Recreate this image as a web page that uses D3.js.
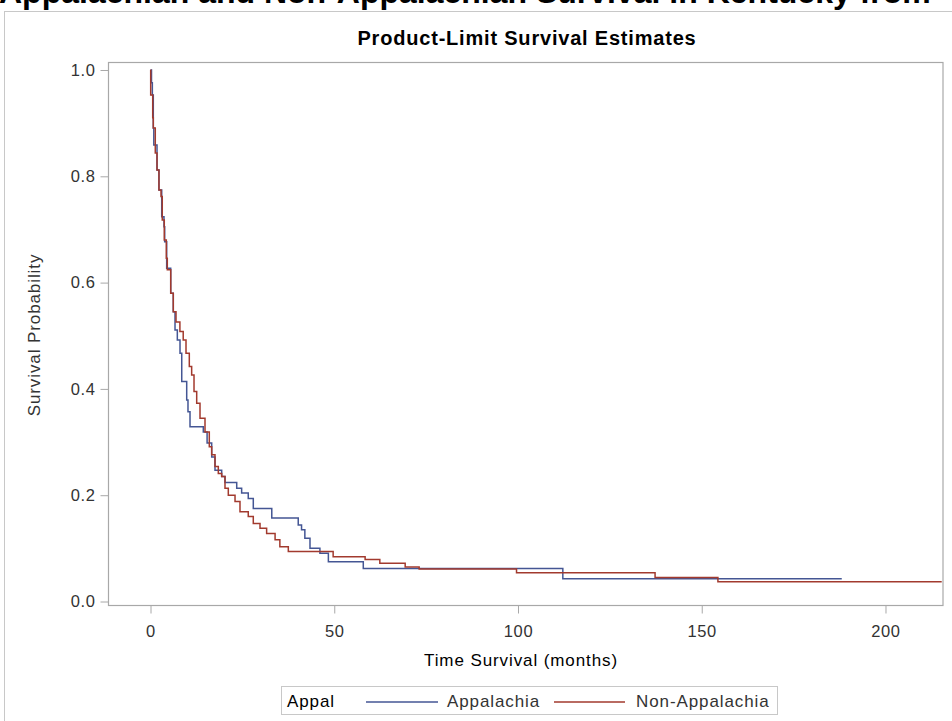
<!DOCTYPE html>
<html>
<head>
<meta charset="utf-8">
<script src="https://cdn.jsdelivr.net/npm/d3@7"></script>
<style>
  html, body { margin: 0; padding: 0; background: #fff; }
  svg { display: block; font-family: "Liberation Sans", Arial, sans-serif; }
</style>
</head>
<body>
<svg id="chart" width="952" height="721"></svg>
<script>
// Kaplan-Meier steps: time (months) -> survival after the drop
const appTime = [0, 0.27, 0.5, 0.76, 0.9, 1.77, 2.3, 3.05, 3.67, 3.86, 4.4, 5.5, 6.2, 6.67, 7.3, 8.03, 8.5, 9.85, 10.2, 10.75,
  14.37, 15.4, 16.65, 17.55, 19.37, 20.27, 23.46, 24.8, 26.6, 27.97, 33.0, 40.2, 41.1, 42.0, 43.4, 46.1, 48.4, 57.9, 112.2, 188.1];
const appSurv = [1, 0.976, 0.953, 0.891, 0.859, 0.812, 0.774, 0.724, 0.705, 0.677, 0.627, 0.58, 0.545, 0.511, 0.492, 0.467, 0.414, 0.379, 0.357, 0.329,
  0.319, 0.298, 0.272, 0.247, 0.235, 0.224, 0.213, 0.204, 0.194, 0.175, 0.157, 0.144, 0.135, 0.119, 0.1, 0.091, 0.075, 0.062, 0.043, 0.043];

const nonTime = [0, 0.05, 0.6, 0.76, 1.3, 1.77, 2.3, 2.86, 3.2, 3.75, 4.3, 4.57, 5.5, 6.2, 6.94, 8.0, 8.9, 9.66, 10.56, 11.2,
  11.84, 12.57, 13.47, 14.83, 16.0, 16.65, 17.55, 18.45, 19.37, 20.27, 21.17, 23.0, 24.35, 26.6, 27.97, 29.8, 31.6, 33.9, 35.2, 37.5,
  49.7, 58.4, 62.4, 69.3, 73.1, 99.6, 137.3, 154.4, 215.3];
const nonSurv = [1, 0.953, 0.91, 0.891, 0.844, 0.812, 0.774, 0.762, 0.718, 0.68, 0.646, 0.624, 0.58, 0.545, 0.526, 0.508, 0.492, 0.467, 0.442, 0.426,
  0.395, 0.373, 0.345, 0.319, 0.291, 0.276, 0.254, 0.241, 0.235, 0.213, 0.2, 0.188, 0.169, 0.16, 0.147, 0.138, 0.128, 0.116, 0.103, 0.094,
  0.084, 0.079, 0.072, 0.065, 0.061, 0.054, 0.045, 0.037, 0.037];

const groups = ['Appalachia', 'Non-Appalachia'];
const colors = ['#445694', '#A23A2E'];
const xTicks = [0, 50, 100, 150, 200];
const yTicks = [0, 0.2, 0.4, 0.6, 0.8, 1.0];

const FS = 16.5, LS = 0.9;   // text size and the slightly wide spacing of the original

const svg = d3.select('#chart');

// frame of the whole graph
svg.append('rect')
  .attr('x', 4.5).attr('y', 11.5)
  .attr('width', 960).attr('height', 730)
  .attr('fill', 'none').attr('stroke', '#c8c8c8');

// big page title, cut off at the top
svg.append('text')
  .attr('x', -1).attr('y', 3)
  .attr('font-size', 32).attr('font-weight', 'bold')
  .attr('fill', '#000')
  .text('Appalachian and Non-Appalachian Survival in Kentucky from');

svg.append('text')
  .attr('x', 527).attr('y', 45)
  .attr('text-anchor', 'middle')
  .attr('font-size', 20).attr('font-weight', 'bold')
  .attr('letter-spacing', 0.8)
  .attr('fill', '#000')
  .text('Product-Limit Survival Estimates');

const L = 108.5, R = 943, T = 62.5, B = 605.5;
const x = d3.scaleLinear().domain([-11.43, 215.65]).range([L, R]);
const y = d3.scaleLinear().domain([-0.0075, 1.0141]).range([B, T]);

// axes
const xAxis = svg.append('g')
  .attr('transform', `translate(0,${B})`)
  .call(d3.axisBottom(x).tickValues(xTicks).tickSize(8).tickPadding(12).tickFormat(d3.format('d')));
const yAxis = svg.append('g')
  .attr('transform', `translate(${L},0)`)
  .call(d3.axisLeft(y).tickValues(yTicks).tickSize(8).tickPadding(5).tickFormat(d3.format('.1f')));

[xAxis, yAxis].forEach(a => {
  a.select('.domain').remove();
  a.selectAll('line').attr('stroke', '#a8a8a8');
  a.selectAll('text')
    .attr('font-family', '"Liberation Sans", Arial, sans-serif')
    .attr('font-size', FS)
    .attr('letter-spacing', 0.6)
    .attr('fill', '#333');
});

// plot frame
svg.append('rect')
  .attr('x', L).attr('y', T)
  .attr('width', R - L).attr('height', B - T)
  .attr('fill', 'none').attr('stroke', '#a8a8a8').attr('stroke-width', 1.2);

// axis labels
svg.append('text')
  .attr('x', 521).attr('y', 666)
  .attr('text-anchor', 'middle')
  .attr('font-size', 17).attr('letter-spacing', LS).attr('fill', '#000')
  .text('Time Survival (months)');

svg.append('text')
  .attr('transform', 'translate(40,335) rotate(-90)')
  .attr('text-anchor', 'middle')
  .attr('font-size', 17).attr('letter-spacing', LS).attr('fill', '#333')
  .text('Survival Probability');

// survival curves
const line = d3.line()
  .x(d => x(d[0]))
  .y(d => y(d[1]))
  .curve(d3.curveStepAfter);

const series = [
  d3.zip(appTime, appSurv),
  d3.zip(nonTime, nonSurv)
];

svg.append('g').selectAll('path')
  .data(series)
  .join('path')
  .attr('d', line)
  .attr('fill', 'none')
  .attr('stroke', (d, i) => colors[i])
  .attr('stroke-width', 1.5);

// legend
const lg = svg.append('g');
lg.append('rect')
  .attr('x', 281.5).attr('y', 686.5)
  .attr('width', 496).attr('height', 28)
  .attr('fill', '#fff').attr('stroke', '#c8c8c8');
lg.append('text')
  .attr('x', 287).attr('y', 707)
  .attr('font-size', 17).attr('letter-spacing', LS).attr('fill', '#000')
  .text('Appal');

const legendItems = [
  { x1: 366, x2: 438, tx: 447 },
  { x1: 554, x2: 625, tx: 636 }
];
legendItems.forEach((it, i) => {
  lg.append('line')
    .attr('x1', it.x1).attr('x2', it.x2)
    .attr('y1', 702).attr('y2', 702)
    .attr('stroke', colors[i]).attr('stroke-width', 1.5);
  lg.append('text')
    .attr('x', it.tx).attr('y', 707)
    .attr('font-size', 17).attr('letter-spacing', LS).attr('fill', '#333')
    .text(groups[i]);
});
</script>
</body>
</html>
